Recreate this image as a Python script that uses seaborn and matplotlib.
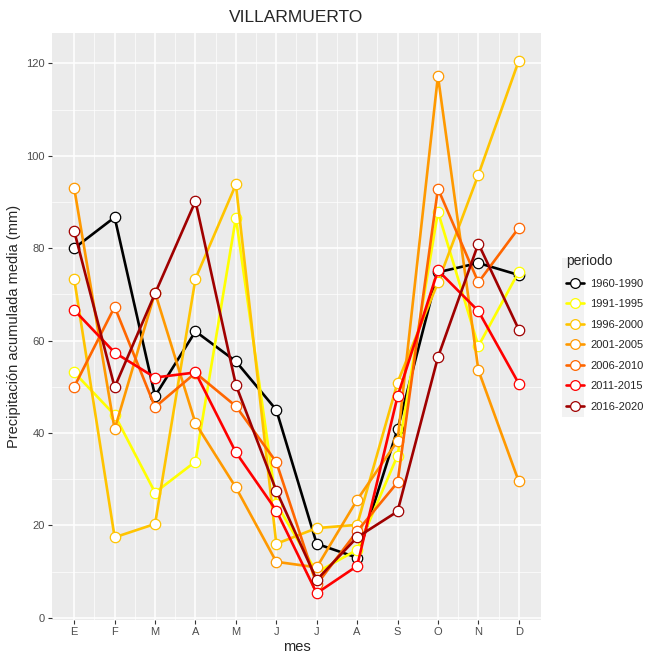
import numpy as np
import pandas as pd
import matplotlib
matplotlib.use("Agg")
import matplotlib.pyplot as plt
from matplotlib.lines import Line2D
from matplotlib.patches import Rectangle
import seaborn as sns

meses = ["E", "F", "M", "A", "M", "J", "J", "A", "S", "O", "N", "D"]
periodos = ["1960-1990", "1991-1995", "1996-2000", "2001-2005",
            "2006-2010", "2011-2015", "2016-2020"]
colores = ["#000000", "#FFFF00", "#FFC400", "#FF9900",
           "#FF6600", "#FF0000", "#A00000"]

p1960_1990 = [80.0, 86.7, 48.0, 62.0, 55.5, 45.0, 16.0, 13.0, 40.8, 74.8, 76.8, 74.2]
p1991_1995 = [53.1, 43.9, 27.1, 33.8, 86.6, 24.7, 9.8, 14.7, 35.1, 87.9, 58.8, 74.9]
p1996_2000 = [73.3, 17.4, 20.3, 73.4, 93.8, 16.0, 19.4, 20.1, 50.9, 72.6, 95.9, 120.6]
p2001_2005 = [93.0, 40.8, 70.4, 42.1, 28.2, 12.1, 10.9, 25.5, 38.3, 117.3, 53.6, 29.5]
p2006_2010 = [50.0, 67.3, 45.6, 53.0, 45.8, 33.7, 7.2, 18.7, 29.3, 92.9, 72.6, 84.4]
p2011_2015 = [66.6, 57.4, 52.0, 53.1, 35.8, 23.2, 5.3, 11.2, 47.9, 75.2, 66.4, 50.7]
p2016_2020 = [83.7, 49.9, 70.2, 90.2, 50.4, 27.5, 8.2, 17.4, 23.0, 56.4, 81.0, 62.4]

series = [p1960_1990, p1991_1995, p1996_2000, p2001_2005,
          p2006_2010, p2011_2015, p2016_2020]

filas = []
for per, vals in zip(periodos, series):
    for i, v in enumerate(vals):
        filas.append({"mes": i + 1, "periodo": per, "prec": v})
df = pd.DataFrame(filas)

sns.set_theme(style="darkgrid")
plt.rcParams["font.family"] = ["Liberation Sans", "DejaVu Sans"]

fig = plt.figure(figsize=(6.46, 6.57), dpi=100)
ax = fig.add_axes([52 / 646, 1 - 620 / 657, (541 - 52) / 646, (620 - 33) / 657])
ax.set_facecolor("#EBEBEB")

sns.lineplot(data=df, x="mes", y="prec", hue="periodo", hue_order=periodos,
             palette=colores, marker="o", markersize=7.5, linewidth=1.9,
             legend=False, ax=ax)
for ln, c in zip(ax.lines, colores):
    ln.set_markerfacecolor("white")
    ln.set_markeredgecolor(c)
    ln.set_markeredgewidth(0.9)
    ln.set_alpha(1)

ax.set_xlim(1 - 0.55, 12 + 0.55)
ax.set_ylim(-0.5, 126.6)
ax.set_xticks(range(1, 13))
ax.set_xticklabels(meses)
ax.set_yticks([0, 20, 40, 60, 80, 100, 120])
ax.set_xticks(np.arange(1.5, 12, 1), minor=True)
ax.set_yticks([10, 30, 50, 70, 90, 110], minor=True)
ax.grid(which="major", color="white", linewidth=1.1)
ax.grid(which="minor", color="white", linewidth=0.5)
ax.set_axisbelow(True)
for s in ax.spines.values():
    s.set_visible(False)
ax.tick_params(which="major", length=3, width=0.8, color="#333333",
               labelsize=8, labelcolor="#4D4D4D", pad=2, direction="out",
               bottom=True, left=True)
ax.tick_params(which="minor", length=0)

ax.set_xlabel("mes", fontsize=10.5, labelpad=2)
ax.set_ylabel("Precipitación acumulada media (mm)", fontsize=10.5, labelpad=4)
ax.set_title("VILLARMUERTO", fontsize=12.5, pad=8)

# fondo gris de las claves de la leyenda
fig.patches.append(Rectangle((562 / 646, 1 - 417 / 657), 22 / 646, 159 / 657,
                             transform=fig.transFigure, facecolor="#F2F2F2",
                             edgecolor="none", zorder=0))
handles = [Line2D([], [], color=c, linewidth=1.9, marker="o", markersize=7,
                  markerfacecolor="white", markeredgecolor=c, markeredgewidth=0.9)
           for c in colores]
leg = fig.legend(handles, periodos, title="periodo", loc="center left",
                 bbox_to_anchor=(556 / 646, 1 - 333 / 657), frameon=False,
                 fontsize=8, title_fontsize=10, handlelength=1.6,
                 labelspacing=0.95, handletextpad=0.6)
leg._legend_box.align = "left"

fig.savefig("out.png", dpi=100)
